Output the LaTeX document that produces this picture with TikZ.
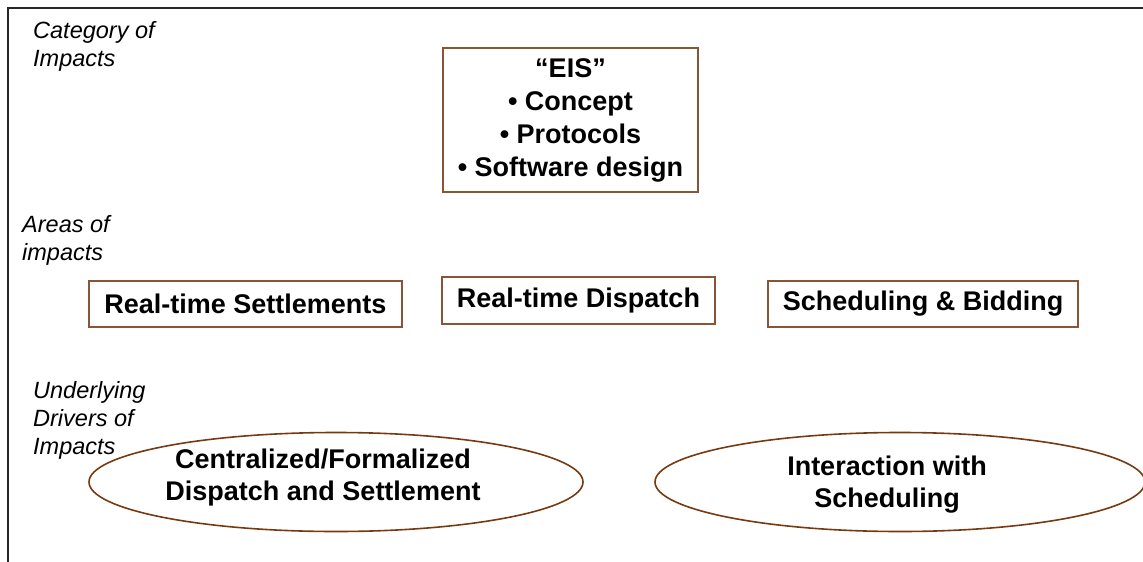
\documentclass[tikz,border=0pt]{standalone}
\usepackage{fontspec}
\setmainfont{Liberation Sans}
\usetikzlibrary{shapes.geometric}
\definecolor{boxbrown}{HTML}{8A5534}
\definecolor{ovalbrown}{HTML}{763A12}

\begin{document}
\begin{tikzpicture}[x=1pt,y=-1pt,
 cat/.style={anchor=north west,inner sep=0pt,align=left,font=\fontsize{23.5}{28}\selectfont\itshape},
 area/.style={draw=boxbrown,line width=1.6pt,rectangle,align=center,inner sep=0pt,font=\fontsize{27}{33}\selectfont\bfseries},
 driver/.style={draw=ovalbrown,line width=1.6pt,ellipse,inner sep=0pt,minimum width=494pt,minimum height=99pt},
 drvtext/.style={align=center,font=\fontsize{27}{32}\selectfont\bfseries}]
\useasboundingbox (0,0) rectangle (1143,562);
\draw[line width=1.8pt,black!85] (1143,8) -- (8,8) -- (8,562);
% row captions
\node[cat] (catimp) at (33,21) {Category of\\Impacts};
\node[cat] (areaimp) at (22,215) {Areas of\\impacts};
\node[cat] (drvimp) at (33,381) {Underlying\\Drivers of\\Impacts};
% boxes
\node[area,minimum width=255pt,minimum height=144pt] (eis) at (570.5,120) {“EIS”\\• Concept\\• Protocols\\• Software design};
\node[area,minimum width=313pt,minimum height=46pt] (rts) at (245.5,304) {Real-time Settlements};
\node[area,minimum width=273pt,minimum height=47pt] (rtd) at (578.5,300.5) {Real-time Dispatch};
\node[area,minimum width=310pt,minimum height=46pt] (sched) at (923,304) {Scheduling \& Bidding};
% drivers
\node[driver,label={[drvtext,xshift=-13pt,yshift=4.5pt]center:Centralized/Formalized\\Dispatch and Settlement}] (cfds) at (336,482) {};
\node[driver,minimum width=490pt,label={[drvtext,xshift=-13pt,yshift=-3pt]center:Interaction with\\Scheduling}] (iws) at (900,482) {};
\end{tikzpicture}
\end{document}
